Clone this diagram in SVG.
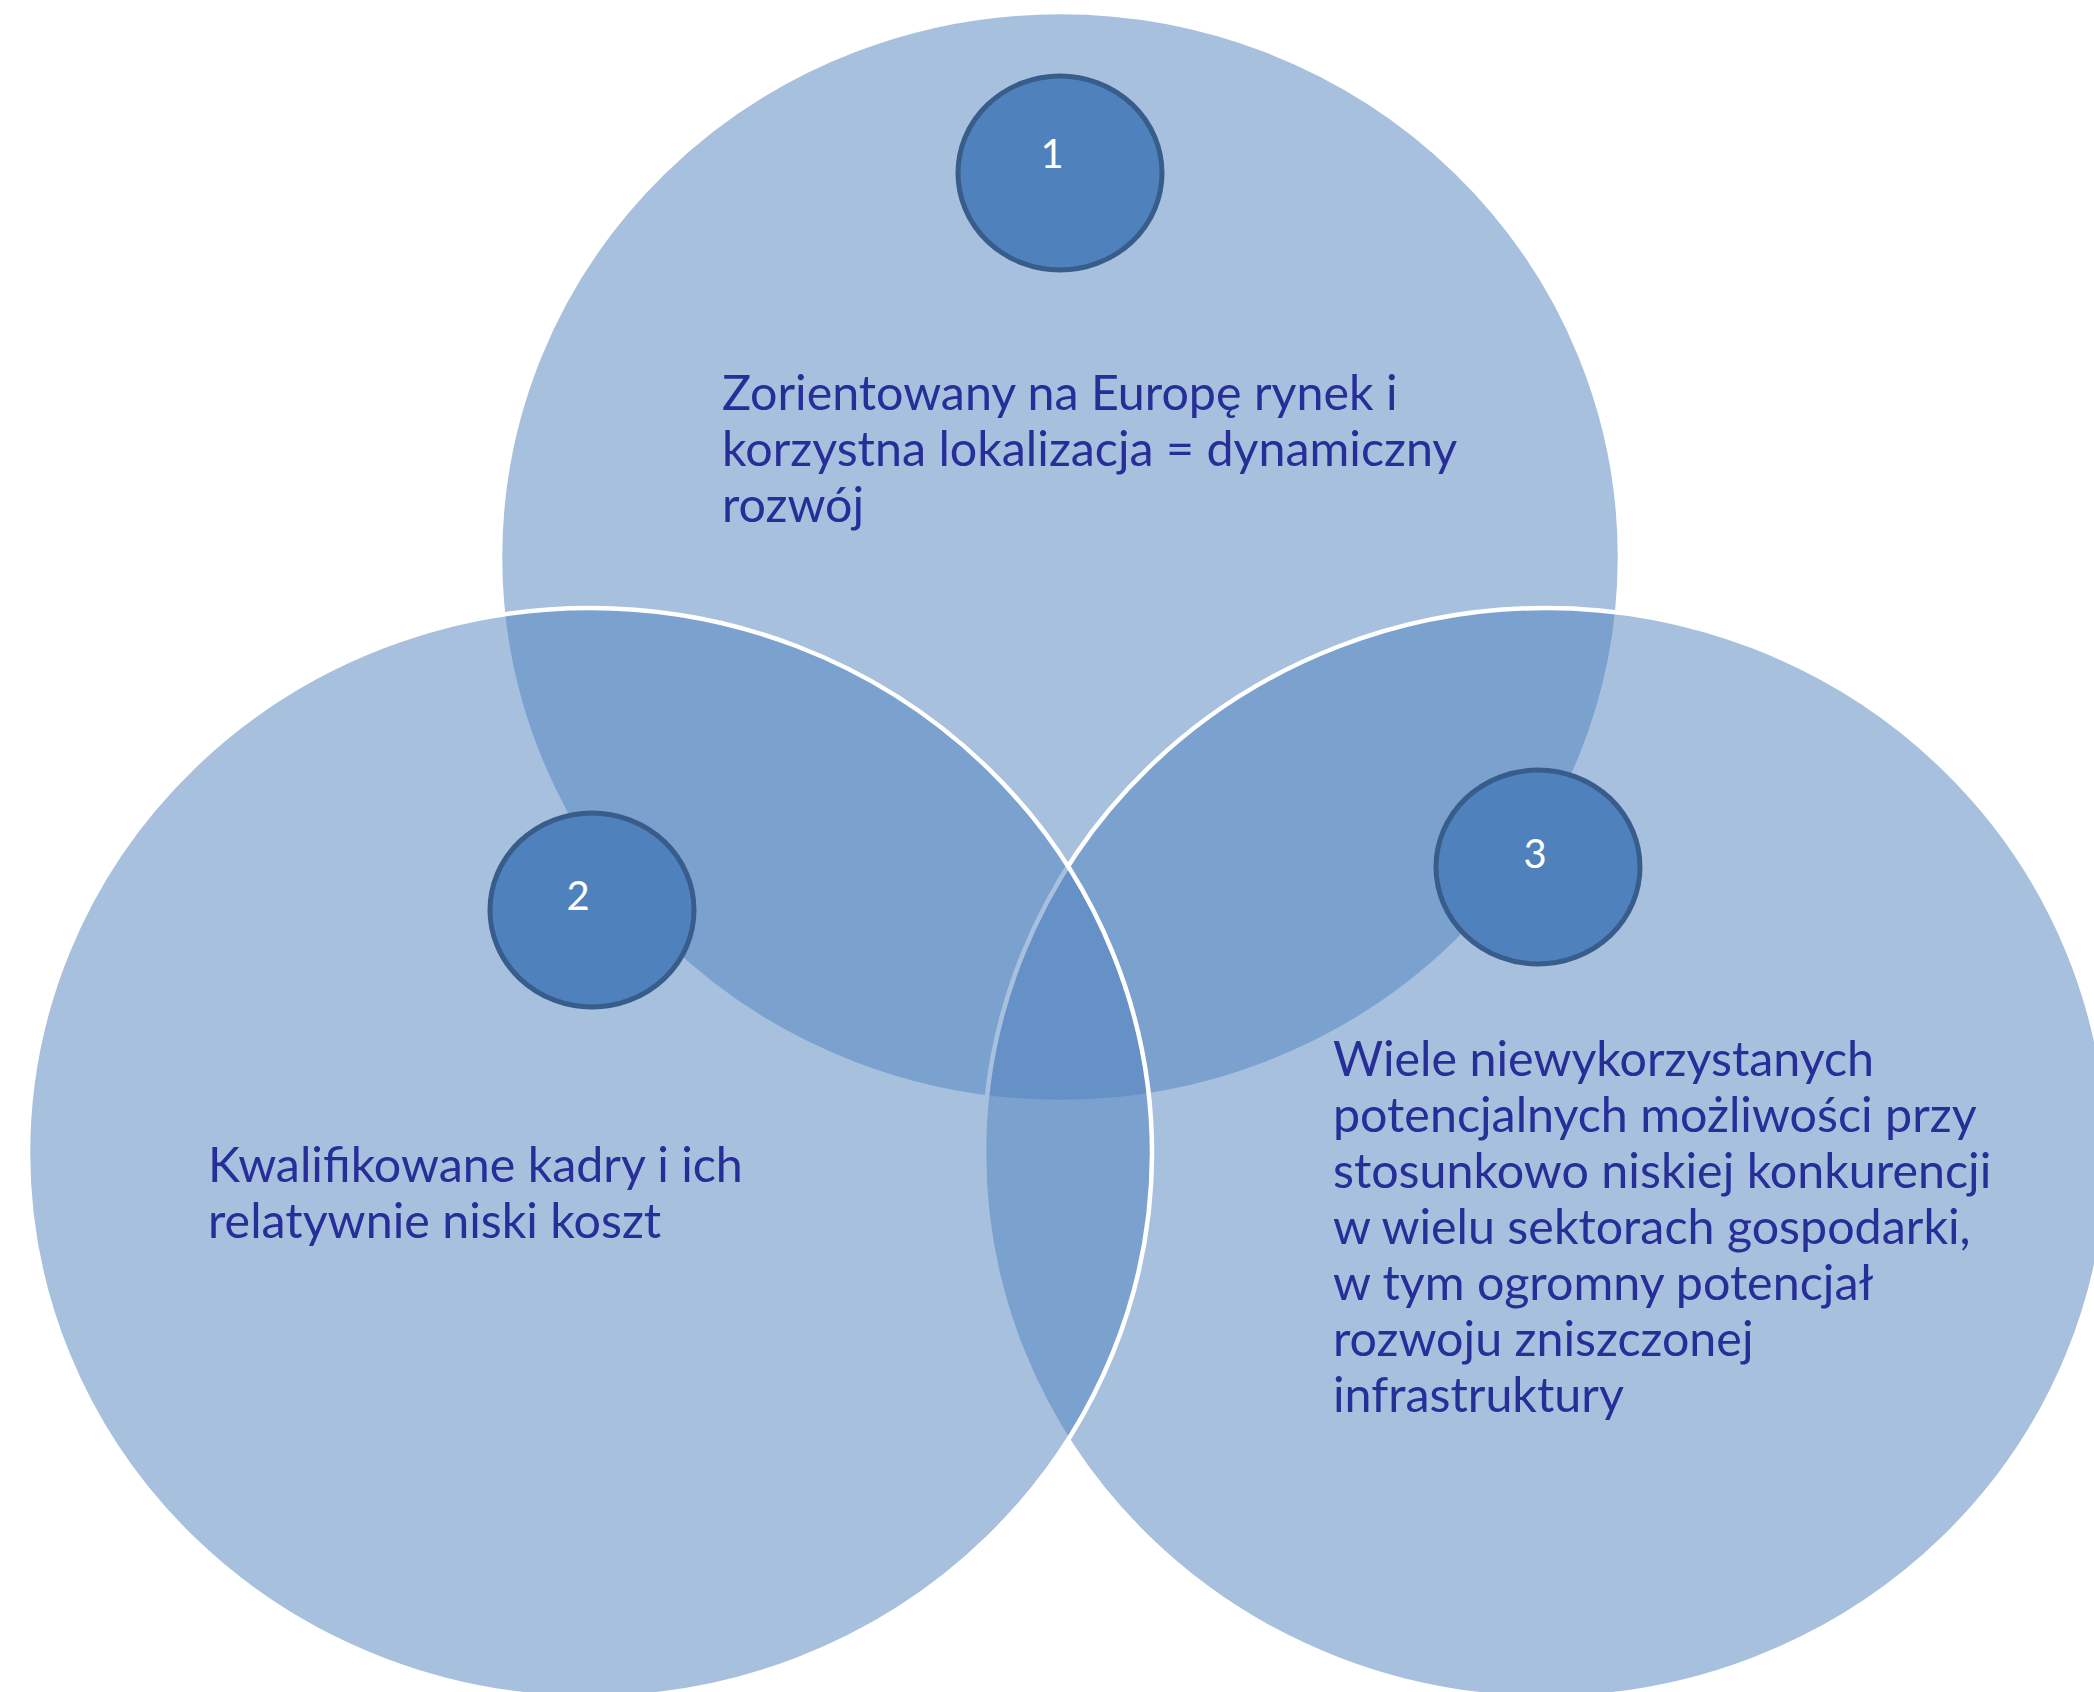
<svg xmlns="http://www.w3.org/2000/svg" width="2094" height="1692" viewBox="0 0 2094 1692">
<style>
.big{fill:#4F81BD;fill-opacity:0.5;stroke:#FFFFFF;stroke-width:4.5}
.badge{fill:#4F81BD;stroke:#385D8A;stroke-width:5}
.num{font-family:Lato,"Open Sans",sans-serif;font-size:40px;fill:#FFFFFF;text-anchor:middle}
.lbl{font-family:Lato,"Open Sans",sans-serif;font-size:48.4px;fill:#262E98}
</style>
<rect width="2094" height="1692" fill="#FFFFFF"/>
<g id="circle1"><ellipse class="big" cx="1060" cy="557" rx="560" ry="545"/></g>
<g id="circle3"><ellipse class="big" cx="1546" cy="1153" rx="562" ry="545"/></g>
<g id="circle2"><ellipse class="big" cx="590" cy="1153" rx="562" ry="545"/></g>
<g id="connectors"></g>
<g id="badge1"><ellipse class="badge" cx="1060" cy="173" rx="102" ry="97"/><text class="num" x="1052" y="168">1</text></g>
<g id="badge2"><ellipse class="badge" cx="592" cy="910" rx="102" ry="97"/><text class="num" x="578" y="910">2</text></g>
<g id="badge3"><ellipse class="badge" cx="1538" cy="867" rx="102" ry="97"/><text class="num" x="1535" y="868">3</text></g>
<g id="text1"><text class="lbl" x="722"><tspan x="722" y="410">Zorientowany na Europę rynek i</tspan><tspan x="722" y="466">korzystna lokalizacja = dynamiczny</tspan><tspan x="722" y="522">rozwój</tspan></text></g>
<g id="text2"><text class="lbl" x="208"><tspan x="208" y="1182">Kwalifikowane kadry i ich</tspan><tspan x="208" y="1238">relatywnie niski koszt</tspan></text></g>
<g id="text3"><text class="lbl" x="1333"><tspan x="1333" y="1076">Wiele niewykorzystanych</tspan><tspan x="1333" y="1132">potencjalnych możliwości przy</tspan><tspan x="1333" y="1188">stosunkowo niskiej konkurencji</tspan><tspan x="1333" y="1244">w wielu sektorach gospodarki,</tspan><tspan x="1333" y="1300">w tym ogromny potencjał</tspan><tspan x="1333" y="1356">rozwoju zniszczonej</tspan><tspan x="1333" y="1412">infrastruktury</tspan></text></g>
</svg>
